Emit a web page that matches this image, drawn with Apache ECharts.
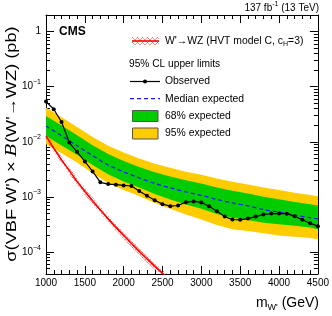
<!DOCTYPE html>
<html><head><meta charset="utf-8">
<script src="https://cdn.jsdelivr.net/npm/echarts@6/dist/echarts.min.js"></script>
<style>html,body{margin:0;padding:0;background:#fff}#c{width:332px;height:316px}</style>
</head><body><div id="c"></div>
<script>
// ---- data ----
const obsMass = [1000,1100,1200,1300,1400,1500,1600,1700,1800,1900,2000,2100,2200,2300,2400,2500,2600,2700,2800,2900,3000,3100,3200,3300,3400,3500,3600,3700,3800,3900,4000,4100,4200,4300,4400,4500];
const observed = [0.0538,0.039,0.0229,0.0097,0.0066,0.0044,0.0029,0.00184,0.00171,0.00167,0.00162,0.00158,0.00128,0.00105,0.00087,0.00074,0.00068,0.0007,0.000805,0.00083,0.000795,0.00068,0.00055,0.00044,0.00039,0.000385,0.000405,0.00044,0.00048,0.0005,0.0005,0.000497,0.000448,0.000385,0.000334,0.000295];

const expMass = [1000,1200,1400,1600,1800,2000,2200,2400,2600,2800,3000,3200,3400,3600,3800,4000,4200,4400,4500];
const expMedian = [0.0194,0.0129,0.0085,0.0056,0.0038,0.00285,0.00222,0.00176,0.00146,0.00123,0.00107,0.0009,0.00078,0.00069,0.00059,0.00053,0.00047,0.00042,0.0004];
const exp68Up = [0.0294,0.0198,0.0131,0.0087,0.006,0.0045,0.0035,0.0028,0.00235,0.002,0.00175,0.00149,0.0013,0.00116,0.00101,0.00091,0.00081,0.00074,0.0007];
const exp68Down = [0.0128,0.0086,0.0058,0.0038,0.00257,0.00191,0.00149,0.00113,0.0009,0.00073,0.00061,0.00049,0.00042,0.00038,0.00034,0.00032,0.0003,0.00028,0.00026];
const exp95Up = [0.0419,0.0279,0.0185,0.0122,0.0085,0.0064,0.005,0.004,0.00337,0.00288,0.00252,0.00217,0.00189,0.00169,0.00148,0.00133,0.00119,0.00109,0.00103];
const exp95Down = [0.009,0.0062,0.0042,0.0027,0.0018,0.00134,0.00104,0.00078,0.00061,0.00048,0.00039,0.00031,0.00026,0.00024,0.00022,0.0002,0.00019,0.00018,0.00017];

const sigMass = [1000,1100,1200,1300,1400,1500,1600,1700,1800,1900,2000,2100,2200,2300,2400,2500,2600];
const sigXsec = [0.0127,0.0076,0.0047,0.003,0.0019,0.00126,0.00085,0.00058,0.0004,0.00028,0.0002,0.000143,0.000103,0.000075,0.000055,0.000041,0.000031];
const sigUp = [0.0146,0.0087,0.0054,0.00345,0.00218,0.00145,0.00098,0.00067,0.00046,0.00032,0.00023,0.000165,0.000119,0.000087,0.000064,0.000048,0.000036];
const sigDown = [0.011,0.0066,0.0041,0.0026,0.00165,0.0011,0.00074,0.0005,0.00035,0.000243,0.000174,0.000124,0.00009,0.000065,0.000048,0.0000357,0.000027];

const xMin = 1000, xMax = 4500, xStep = 500;
const yMin = 4e-5, yMax = 2;

// ---- styling helpers ----
const NARROW = '"Liberation Sans Narrow", "Liberation Sans", Arial, sans-serif';
const SANS = '"Liberation Sans", Arial, sans-serif';
const GREEN = '#00cc00', YELLOW = '#ffcc00';

function hatch() {
  const c = document.createElement('canvas');
  c.width = 5; c.height = 5;
  const g = c.getContext('2d');
  g.strokeStyle = 'rgba(255,60,60,0.55)';
  g.lineWidth = 1;
  g.beginPath();
  g.moveTo(0,0); g.lineTo(5,5);
  g.moveTo(5,0); g.lineTo(0,5);
  g.stroke();
  return c;
}
const hatchPattern = { image: hatch(), repeat: 'repeat' };

function band(xs, up, down, fill, z) {
  return {
    type: 'custom', z: z, silent: true, clip: true,
    data: xs.map((m, i) => [m, up[i], down[i]]),
    encode: { x: 0, y: [1, 2] },
    renderItem: function (params, api) {
      if (params.dataIndex !== 0) return null;
      const pts = [];
      for (let i = 0; i < xs.length; i++) pts.push(api.coord([xs[i], up[i]]));
      for (let i = xs.length - 1; i >= 0; i--) pts.push(api.coord([xs[i], down[i]]));
      return { type: 'polygon', shape: { points: pts }, style: { fill: fill } };
    }
  };
}

function xAxisCfg(pos, showLabel) {
  return {
    type: 'value', position: pos, min: xMin, max: xMax, interval: xStep,
    axisLine: { show: true, onZero: false, lineStyle: { color: '#000', width: 1 } },
    axisTick: { show: true, inside: true, length: 8, lineStyle: { color: '#000' } },
    minorTick: { show: true, splitNumber: 5, length: 4, lineStyle: { color: '#000' } },
    splitLine: { show: false },
    axisLabel: { show: showLabel, color: '#000', fontFamily: NARROW, fontSize: 10, margin: 4,
                 formatter: function (v) { return String(v); } }
  };
}
function yAxisCfg(pos, showLabel) {
  return {
    type: 'log', logBase: 10, position: pos, min: yMin, max: yMax,
    axisLine: { show: true, onZero: false, lineStyle: { color: '#000', width: 1 } },
    axisTick: { show: true, inside: true, length: 8, lineStyle: { color: '#000' } },
    minorTick: { show: true, splitNumber: 9, length: 4, lineStyle: { color: '#000' } },
    splitLine: { show: false },
    axisLabel: {
      show: showLabel, color: '#000', margin: 5, showMinLabel: false, showMaxLabel: false,
      formatter: function (v) {
        const e = Math.round(Math.log10(v));
        if (e === 0) return '{b|1}';
        return '{b|10}{s|\u2212' + (-e) + '}';
      },
      rich: {
        b: { fontFamily: NARROW, fontSize: 10, lineHeight: 16, color: '#000' },
        s: { fontFamily: NARROW, fontSize: 7, lineHeight: 8, verticalAlign: 'top', color: '#000' }
      }
    }
  };
}

const chart = echarts.init(document.getElementById('c'), null, { renderer: 'canvas' });
chart.setOption({
  animation: false,
  backgroundColor: '#fff',
  grid: { left: 46, right: 13, top: 15, bottom: 42, containLabel: false },
  xAxis: [xAxisCfg('bottom', true), xAxisCfg('top', false)],
  yAxis: [yAxisCfg('left', true), yAxisCfg('right', false)],
  series: [
    band(expMass, exp95Up, exp95Down, YELLOW, 1),
    band(expMass, exp68Up, exp68Down, GREEN, 2),
    band(sigMass, sigUp, sigDown, hatchPattern, 3),
    { type: 'line', z: 4, data: sigMass.map((m, i) => [m, sigXsec[i]]), symbol: 'none', clip: true,
      lineStyle: { color: '#ff0000', width: 1.6 } },
    { type: 'line', z: 5, data: expMass.map((m, i) => [m, expMedian[i]]), symbol: 'none', smooth: 0.3, clip: true,
      lineStyle: { color: '#1a1aff', width: 1.3, type: [4, 3] } },
    { type: 'line', z: 6, data: obsMass.map((m, i) => [m, observed[i]]), symbol: 'circle', symbolSize: 4, clip: true,
      itemStyle: { color: '#000' }, lineStyle: { color: '#000', width: 1.2 } }
  ],
  graphic: [
    { type: 'text', x: 59, y: 32, style: { text: 'CMS', font: 'bold 12px ' + SANS, fill: '#000', verticalAlign: 'middle' } },
    { type: 'text', x: 319, y: 8, style: {
        text: '{n|137 fb}{s|-1}{n| (13 TeV)}', align: 'right', verticalAlign: 'middle',
        rich: { n: { fontFamily: SANS, fontSize: 10, lineHeight: 14, fill: '#000' },
                s: { fontFamily: SANS, fontSize: 7, lineHeight: 8, verticalAlign: 'top', fill: '#000' } } } },
    // legend: signal
    { type: 'rect', shape: { x: 132, y: 37, width: 27, height: 8 }, style: { fill: hatchPattern } },
    { type: 'line', shape: { x1: 132, y1: 41, x2: 159, y2: 41 }, style: { stroke: '#ff0000', lineWidth: 1.6 } },
    { type: 'text', x: 165, y: 41, style: {
        text: "{n|W'\u2192WZ (HVT model C, c}{u|H}{n|=3)}", verticalAlign: 'middle',
        rich: { n: { fontFamily: SANS, fontSize: 10.4, lineHeight: 14, fill: '#000' },
                u: { fontFamily: SANS, fontSize: 7, lineHeight: 8, verticalAlign: 'bottom', fill: '#000' } } } },
    { type: 'text', x: 129, y: 64.5, style: { text: '95% CL upper limits', font: '10.2px ' + SANS, fill: '#000', verticalAlign: 'middle' } },
    { type: 'line', shape: { x1: 130, y1: 81.5, x2: 160, y2: 81.5 }, style: { stroke: '#000', lineWidth: 1.2 } },
    { type: 'circle', shape: { cx: 145, cy: 81.5, r: 2 }, style: { fill: '#000' } },
    { type: 'text', x: 165, y: 81.5, style: { text: 'Observed', font: '10.4px ' + SANS, fill: '#000', verticalAlign: 'middle' } },
    { type: 'line', shape: { x1: 130, y1: 98.7, x2: 160, y2: 98.7 }, style: { stroke: '#1a1aff', lineWidth: 1.3, lineDash: [4, 3] } },
    { type: 'text', x: 165, y: 98.7, style: { text: 'Median expected', font: '10.4px ' + SANS, fill: '#000', verticalAlign: 'middle' } },
    { type: 'rect', shape: { x: 132.5, y: 110.5, width: 25.5, height: 11 }, style: { fill: GREEN, stroke: '#555', lineWidth: 1 } },
    { type: 'text', x: 165, y: 116, style: { text: '68% expected', font: '10.4px ' + SANS, fill: '#000', verticalAlign: 'middle' } },
    { type: 'rect', shape: { x: 132.5, y: 128, width: 25.5, height: 11 }, style: { fill: YELLOW, stroke: '#555', lineWidth: 1 } },
    { type: 'text', x: 165, y: 133.5, style: { text: '95% expected', font: '10.4px ' + SANS, fill: '#000', verticalAlign: 'middle' } },
    // axis titles
    { type: 'text', x: 319, y: 303, style: {
        text: "{n|m}{u|W'}{n| (GeV)}", align: 'right', verticalAlign: 'middle',
        rich: { n: { fontFamily: SANS, fontSize: 14, lineHeight: 18, fill: '#000' },
                u: { fontFamily: SANS, fontSize: 9, lineHeight: 10, verticalAlign: 'bottom', fill: '#000' } } } },
    { type: 'text', x: 12, y: 144, rotation: Math.PI / 2, scaleX: 1.3, style: {
        text: "{n|\u03c3(VBF W') \u00d7 }{i|B}{n|(W'\u2192WZ) (pb)}", align: 'center', verticalAlign: 'middle',
        rich: { n: { fontFamily: SANS, fontSize: 14, fill: '#000' },
                i: { fontFamily: '"DejaVu Serif", serif', fontStyle: 'italic', fontSize: 14, fill: '#000' } } } }
  ]
});
</script></body></html>
